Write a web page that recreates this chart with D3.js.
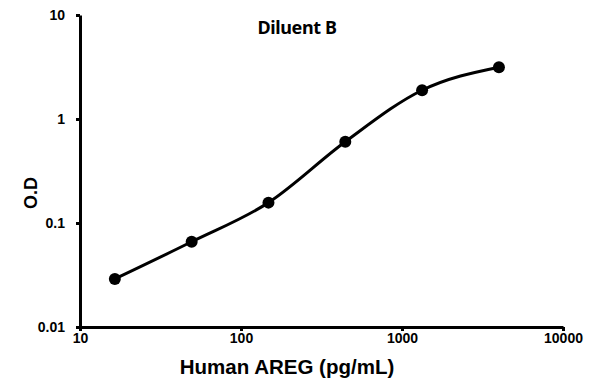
<!DOCTYPE html>
<html>
<head>
<meta charset="utf-8">
<script src="https://cdn.jsdelivr.net/npm/d3@7"></script>
<style>
  body { margin: 0; background: #fff; }
  svg { display: block; font-family: "Liberation Sans", Arial, sans-serif; }
</style>
</head>
<body>
<script>
const concentrations = [16.46, 49.38, 148.1, 444.4, 1333, 4000]
const odValues = [0.029, 0.066, 0.157, 0.604, 1.89, 3.15]
const xTicks = [10, 100, 1000, 10000]
const yTicks = [0.01, 0.1, 1, 10]
const titleText = 'Diluent B'
const xTitle = 'Human AREG (pg/mL)'
const yTitle = 'O.D'

const width = 595
const height = 388
const margin = { left: 80, right: 32, top: 15, bottom: 61 }

const svg = d3.select('body').append('svg')
  .attr('width', width)
  .attr('height', height)

const x = d3.scaleLog().domain([10, 10000]).range([margin.left, width - margin.right])
const y = d3.scaleLog().domain([0.01, 10]).range([height - margin.bottom, margin.top])

// axes
const xAxis = svg.append('g')
  .attr('transform', `translate(0,${y(0.01)})`)
  .call(d3.axisBottom(x).tickValues(xTicks).tickFormat(d3.format('d')).tickSizeInner(4).tickSizeOuter(0).tickPadding(9))

const yAxis = svg.append('g')
  .attr('transform', `translate(${x(10)},0)`)
  .call(d3.axisLeft(y).tickValues(yTicks).tickFormat(d => String(d)).tickSizeInner(4).tickSizeOuter(0).tickPadding(11))

for (const ax of [xAxis, yAxis]) {
  ax.select('.domain').attr('stroke', '#000').attr('stroke-width', 3)
  ax.selectAll('.tick line').attr('stroke', '#000').attr('stroke-width', 3)
  ax.selectAll('.tick text')
    .attr('fill', '#000')
    .style('font-size', '14px')
    .style('font-weight', 'bold')
    .style('font-family', '"Liberation Sans", Arial, sans-serif')
}
xAxis.selectAll('.tick text').attr('dy', '0.2em')

// curve
const pts = concentrations.map((c, i) => [x(c), y(odValues[i])])
svg.append('path')
  .attr('d', d3.line().curve(d3.curveMonotoneX)(pts))
  .attr('fill', 'none')
  .attr('stroke', '#000')
  .attr('stroke-width', 3)

svg.append('g').selectAll('circle')
  .data(pts)
  .join('circle')
  .attr('cx', d => d[0])
  .attr('cy', d => d[1])
  .attr('r', 6)
  .attr('fill', '#000')

// titles
svg.append('text')
  .attr('x', 297)
  .attr('y', 34)
  .attr('text-anchor', 'middle')
  .style('font-family', '"Noto Sans", sans-serif')
  .style('font-weight', 'bold')
  .style('font-size', '18px')
  .style('letter-spacing', '-0.4px')
  .text(titleText)

svg.append('text')
  .attr('x', 287)
  .attr('y', 374)
  .attr('text-anchor', 'middle')
  .style('font-weight', 'bold')
  .style('font-size', '20.5px')
  .text(xTitle)

svg.append('text')
  .attr('transform', 'translate(37,193) rotate(-90)')
  .attr('text-anchor', 'middle')
  .style('font-weight', 'bold')
  .style('font-size', '18px')
  .text(yTitle)
</script>
</body>
</html>
